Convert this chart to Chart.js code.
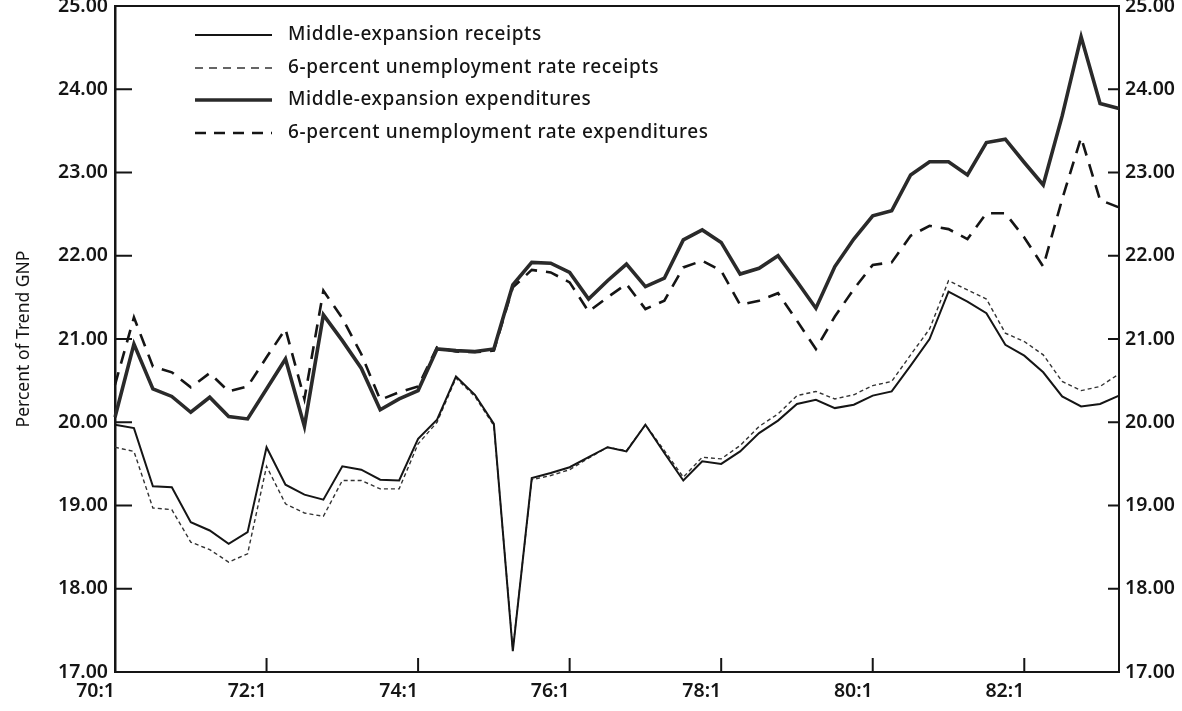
<!DOCTYPE html>
<html>
<head>
<meta charset="utf-8">
<script src="https://cdn.jsdelivr.net/npm/chart.js@4.4.1/dist/chart.umd.min.js"></script>
<style>
  body { margin: 0; background: #fff; }
  #wrap { width: 1182px; height: 711px; }
</style>
</head>
<body>
<div id="wrap"><canvas id="budget-chart" width="1182" height="711"></canvas></div>
<script>
// quarters 70:1 .. 83:2
const quarters = [];
for (let yr = 70; yr <= 83; yr++) {
  for (let q = 1; q <= 4; q++) {
    if (yr === 83 && q > 2) break;
    quarters.push(yr + ':' + q);
  }
}
const xTickLabels = ['70:1', '72:1', '74:1', '76:1', '78:1', '80:1', '82:1'];
const yTicks = [17, 18, 19, 20, 21, 22, 23, 24, 25];

const midReceipts = [19.97, 19.93, 19.23, 19.22, 18.80, 18.70, 18.54, 18.68, 19.70, 19.25,
  19.13, 19.07, 19.47, 19.43, 19.31, 19.30, 19.80, 20.03, 20.55, 20.33,
  19.98, 17.25, 19.33, 19.39, 19.46, 19.58, 19.70, 19.65, 19.97, 19.63,
  19.30, 19.53, 19.50, 19.65, 19.87, 20.02, 20.22, 20.27, 20.17, 20.21,
  20.32, 20.37, 20.68, 21.00, 21.57, 21.45, 21.31, 20.93, 20.80, 20.60,
  20.31, 20.19, 20.22, 20.32];
const sixReceipts = [19.70, 19.65, 18.97, 18.95, 18.56, 18.47, 18.32, 18.42, 19.47, 19.02,
  18.91, 18.87, 19.30, 19.30, 19.20, 19.20, 19.74, 20.00, 20.53, 20.31,
  19.96, 17.27, 19.31, 19.36, 19.43, 19.57, 19.70, 19.66, 19.97, 19.66,
  19.34, 19.58, 19.56, 19.72, 19.95, 20.10, 20.32, 20.37, 20.28, 20.33,
  20.44, 20.49, 20.81, 21.12, 21.70, 21.59, 21.48, 21.07, 20.97, 20.81,
  20.49, 20.38, 20.43, 20.58];
const midExpend = [20.06, 20.94, 20.40, 20.31, 20.12, 20.30, 20.07, 20.04, 20.40, 20.76,
  19.95, 21.29, 20.98, 20.65, 20.15, 20.28, 20.38, 20.88, 20.86, 20.85,
  20.88, 21.65, 21.92, 21.91, 21.80, 21.48, 21.70, 21.90, 21.63, 21.73,
  22.19, 22.31, 22.16, 21.78, 21.85, 22.00, 21.69, 21.37, 21.87, 22.20,
  22.48, 22.54, 22.97, 23.13, 23.13, 22.97, 23.36, 23.40, 23.12, 22.85,
  23.68, 24.63, 23.83, 23.77];
const sixExpend = [20.45, 21.26, 20.67, 20.60, 20.42, 20.59, 20.37, 20.43, 20.78, 21.12,
  20.28, 21.58, 21.25, 20.82, 20.27, 20.36, 20.43, 20.90, 20.85, 20.84,
  20.86, 21.62, 21.83, 21.80, 21.68, 21.33, 21.50, 21.66, 21.36, 21.46,
  21.86, 21.94, 21.82, 21.41, 21.46, 21.55, 21.22, 20.88, 21.27, 21.60,
  21.89, 21.92, 22.24, 22.36, 22.32, 22.20, 22.51, 22.51, 22.22, 21.87,
  22.68, 23.42, 22.67, 22.58];

const ink = '#151515';
const tickFont = { family: "'Noto Sans', sans-serif", size: 19.5, weight: '600' };

// inward tick marks, frame top and the in-plot legend
const decorations = {
  id: 'decorations',
  afterDraw(chart) {
    const ctx = chart.ctx;
    const area = chart.chartArea;
    const sx = chart.scales.x;
    const sy = chart.scales.y;
    ctx.save();
    ctx.strokeStyle = ink;
    ctx.lineWidth = 2;
    ctx.beginPath();
    ctx.moveTo(area.left, area.top);
    ctx.lineTo(area.right, area.top);
    yTicks.forEach(v => {
      const py = sy.getPixelForValue(v);
      ctx.moveTo(area.left, py);
      ctx.lineTo(area.left + 17, py);
      ctx.moveTo(area.right - 11, py);
      ctx.lineTo(area.right, py);
    });
    xTickLabels.forEach(lbl => {
      const px = sx.getPixelForValue(quarters.indexOf(lbl));
      ctx.moveTo(px, area.bottom);
      ctx.lineTo(px, area.bottom - 14);
    });
    ctx.stroke();

    // legend
    ctx.font = "500 19px 'Noto Sans', sans-serif";
    ctx.letterSpacing = '0.6px';
    ctx.textBaseline = 'middle';
    ctx.fillStyle = ink;
    const rowY = [35, 68, 100, 133];
    chart.data.datasets.forEach((ds, i) => {
      const y = rowY[i];
      ctx.beginPath();
      ctx.strokeStyle = ds.borderColor;
      ctx.lineWidth = ds.borderWidth;
      ctx.setLineDash(ds.legendDash || ds.borderDash || []);
      ctx.moveTo(195, y);
      ctx.lineTo(272, y);
      ctx.stroke();
      ctx.setLineDash([]);
      ctx.fillText(ds.label, 288, y);
    });
    ctx.restore();
  }
};

new Chart(document.getElementById('budget-chart'), {
  type: 'line',
  data: {
    labels: quarters,
    datasets: [
      {
        label: 'Middle-expansion receipts',
        data: midReceipts,
        borderColor: ink,
        borderWidth: 2
      },
      {
        label: '6-percent unemployment rate receipts',
        data: sixReceipts,
        borderColor: '#333',
        borderWidth: 1.4,
        borderDash: [4, 3],
        legendDash: [8, 6]
      },
      {
        label: 'Middle-expansion expenditures',
        data: midExpend,
        borderColor: '#2a2a2a',
        borderWidth: 3.6
      },
      {
        label: '6-percent unemployment rate expenditures',
        data: sixExpend,
        borderColor: ink,
        borderWidth: 2.6,
        borderDash: [13, 9],
        legendDash: [11, 8]
      }
    ]
  },
  options: {
    responsive: false,
    animation: false,
    devicePixelRatio: 1,
    layout: { padding: { top: 6, left: 0, right: 0, bottom: 0 } },
    elements: {
      line: { tension: 0, fill: false },
      point: { radius: 0 }
    },
    plugins: {
      legend: { display: false },
      tooltip: { enabled: false }
    },
    scales: {
      x: {
        type: 'category',
        offset: false,
        grid: { drawOnChartArea: false, drawTicks: false },
        border: { display: true, color: ink, width: 2 },
        ticks: {
          autoSkip: false,
          maxRotation: 0,
          align: 'end',
          padding: 8,
          color: ink,
          font: tickFont,
          callback: (v, i) => (xTickLabels.includes(quarters[i]) ? quarters[i] : '')
        },
        afterFit: s => { s.height = 39; s.paddingLeft = 0; s.paddingRight = 0; }
      },
      y: {
        position: 'left',
        min: 17,
        max: 25,
        grid: { drawOnChartArea: false, drawTicks: false },
        border: { display: true, color: ink, width: 2.5 },
        ticks: {
          stepSize: 1,
          padding: 7,
          color: ink,
          font: tickFont,
          callback: v => v.toFixed(2)
        },
        title: {
          display: true,
          text: 'Percent of Trend GNP',
          color: ink,
          padding: { top: 14, bottom: 0 },
          font: { family: "'Noto Sans', sans-serif", size: 17.5 }
        },
        afterFit: s => { s.width = 115; s.paddingTop = 0; s.paddingBottom = 0; }
      },
      yRight: {
        position: 'right',
        min: 17,
        max: 25,
        grid: { drawOnChartArea: false, drawTicks: false },
        border: { display: true, color: ink, width: 2 },
        ticks: {
          stepSize: 1,
          padding: 6,
          color: ink,
          font: tickFont,
          callback: v => v.toFixed(2)
        },
        afterFit: s => { s.width = 63; s.paddingTop = 0; s.paddingBottom = 0; }
      }
    }
  },
  plugins: [decorations]
});
</script>
</body>
</html>
